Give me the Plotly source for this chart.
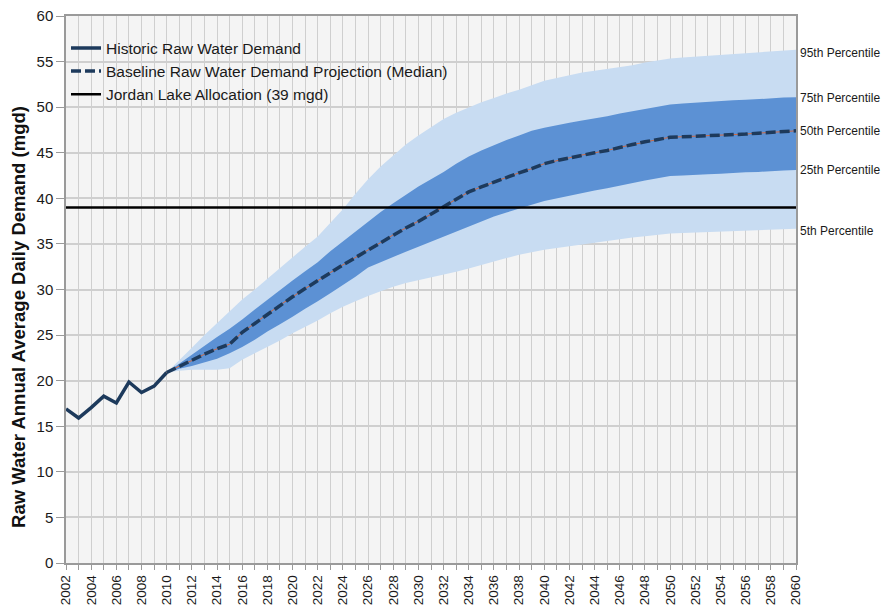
import plotly.graph_objects as go

hist_years = list(range(2002, 2011))
hist_demand = [16.9, 15.9, 17.05, 18.3, 17.55, 19.85, 18.7, 19.4, 20.9]

proj_years = list(range(2010, 2061))
p50 = [20.9, 21.6, 22.2, 22.9, 23.5, 24.0, 25.3, 26.3, 27.3, 28.3, 29.2, 30.1, 31.0, 31.85, 32.7,
       33.5, 34.3, 35.15, 36.0, 36.75, 37.45, 38.25, 39.1, 39.9, 40.7, 41.25, 41.8, 42.3, 42.8, 43.25,
       43.8, 44.15, 44.45, 44.75, 45.0, 45.25, 45.6, 45.9, 46.2, 46.45, 46.7, 46.75, 46.8, 46.85, 46.9,
       47.0, 47.05, 47.15, 47.25, 47.35, 47.4]
p75 = [20.9, 21.9, 22.9, 23.9, 24.8, 25.7, 26.7, 27.8, 28.9, 30.0, 31.0, 32.0, 33.0, 34.2, 35.3,
       36.4, 37.5, 38.5, 39.45, 40.4, 41.3, 42.1, 42.9, 43.8, 44.6, 45.25, 45.85, 46.4, 46.9, 47.4,
       47.75, 48.05, 48.3, 48.55, 48.75, 49.0, 49.3, 49.55, 49.8, 50.05, 50.3, 50.4, 50.5, 50.6, 50.65,
       50.75, 50.8, 50.9, 50.95, 51.05, 51.1]
p95 = [20.9, 22.2, 23.6, 25.0, 26.3, 27.6, 28.9, 30.0, 31.2, 32.4, 33.6, 34.7, 35.8, 37.3, 38.8,
       40.5, 42.1, 43.5, 44.75, 45.9, 46.9, 47.85, 48.7, 49.4, 50.0, 50.55, 51.0, 51.5, 51.9, 52.4,
       52.9, 53.2, 53.5, 53.8, 54.0, 54.2, 54.4, 54.6, 54.9, 55.1, 55.35, 55.45, 55.55, 55.65, 55.75,
       55.85, 55.95, 56.05, 56.15, 56.25, 56.3]
p25 = [20.9, 21.3, 21.6, 22.0, 22.4, 23.0, 23.7, 24.5, 25.4, 26.2, 27.0, 27.9, 28.7, 29.6, 30.5,
       31.4, 32.4, 33.0, 33.6, 34.15, 34.7, 35.25, 35.8, 36.35, 36.9, 37.45, 38.0, 38.45, 38.9, 39.3,
       39.7, 40.0, 40.3, 40.6, 40.85, 41.1, 41.4, 41.65, 41.95, 42.2, 42.45, 42.5, 42.6, 42.65, 42.7,
       42.8, 42.85, 42.9, 43.0, 43.05, 43.1]
p5 = [20.9, 21.1, 21.2, 21.2, 21.2, 21.35, 22.3, 23.0, 23.7, 24.4, 25.2, 25.9, 26.6, 27.4, 28.1,
      28.7, 29.3, 29.8, 30.3, 30.7, 31.0, 31.3, 31.6, 31.95, 32.3, 32.7, 33.1, 33.45, 33.8, 34.1,
      34.35, 34.55, 34.75, 34.95, 35.15, 35.35, 35.55, 35.7, 35.85, 36.0, 36.15, 36.2, 36.25, 36.3, 36.35,
      36.4, 36.45, 36.5, 36.55, 36.6, 36.65]

allocation = 39
band_labels = ["95th Percentile", "75th Percentile", "50th Percentile", "25th Percentile", "5th Percentile"]
y_title = "Raw Water Annual Average Daily Demand (mgd)"

LIGHT = "rgb(200,220,242)"
DARK = "rgb(92,145,212)"
NAVY = "#1d3a5c"
FONT = "Liberation Sans, Arial, sans-serif"
label_yshift = [-3, -1, 0, 0, -2]

fig = go.Figure()
fig.add_trace(go.Scatter(x=proj_years, y=p5, mode="lines", line=dict(width=0, color=LIGHT),
                         showlegend=False, hoverinfo="skip"))
fig.add_trace(go.Scatter(x=proj_years, y=p95, mode="lines", line=dict(width=0, color=LIGHT),
                         fill="tonexty", fillcolor=LIGHT, showlegend=False, hoverinfo="skip"))
fig.add_trace(go.Scatter(x=proj_years, y=p25, mode="lines", line=dict(width=0, color=DARK),
                         showlegend=False, hoverinfo="skip"))
fig.add_trace(go.Scatter(x=proj_years, y=p75, mode="lines", line=dict(width=0, color=DARK),
                         fill="tonexty", fillcolor=DARK, showlegend=False, hoverinfo="skip"))

fig.add_trace(go.Scatter(x=hist_years, y=hist_demand, mode="lines", name="Historic Raw Water Demand",
                         line=dict(color=NAVY, width=3.5)))
fig.add_trace(go.Scatter(x=proj_years, y=p50, mode="lines", showlegend=False, hoverinfo="skip",
                         line=dict(color="#d0683f", width=1)))
fig.add_trace(go.Scatter(x=proj_years, y=p50, mode="lines",
                         name="Baseline Raw Water Demand Projection (Median)",
                         line=dict(color=NAVY, width=3.5, dash="10px,4px")))
fig.add_trace(go.Scatter(x=[hist_years[0], proj_years[-1]], y=[allocation, allocation], mode="lines",
                         name="Jordan Lake Allocation (39 mgd)", line=dict(color="#000000", width=2.5)))

ends = [p95[-1], p75[-1], p50[-1], p25[-1], p5[-1]]
for lab, v, ys in zip(band_labels, ends, label_yshift):
    fig.add_annotation(x=proj_years[-1], y=v, text=lab, showarrow=False, xanchor="left",
                       xshift=2, yshift=ys, font=dict(size=12, color="#1a1a1a", family=FONT))

# y-axis title, placed as in the reference (slightly below the axis centre)
fig.add_annotation(xref="paper", yref="paper", x=0, y=0.449, xshift=-47.5, text=f"<b>{y_title}</b>",
                   textangle=-90, showarrow=False, xanchor="center", yanchor="middle",
                   font=dict(size=18.5, color="#111111", family=FONT))

fig.update_layout(
    width=886, height=611,
    margin=dict(l=66, r=90, t=16, b=48),
    paper_bgcolor="white", plot_bgcolor="#f4f4f4",
    font=dict(family=FONT, color="#1a1a1a"),
    legend=dict(x=0.0, y=0.972, xanchor="left", yanchor="top", bgcolor="rgba(0,0,0,0)",
                font=dict(size=15.5, family=FONT), tracegroupgap=0, traceorder="normal"),
    showlegend=True,
)
fig.update_xaxes(range=[2002, 2060], dtick=2, tick0=2002, tickangle=-90, automargin=False,
                 showgrid=True, gridcolor="#cfcfcf", gridwidth=1,
                 minor=dict(dtick=1, showgrid=True, gridcolor="#cfcfcf", ticks="outside", ticklen=5,
                            tickcolor="#9a9a9a"),
                 ticks="outside", ticklen=5, tickcolor="#9a9a9a",
                 showline=True, linecolor="#9a9a9a", linewidth=1.5, mirror=True,
                 tickfont=dict(size=13.5), zeroline=False)
fig.update_yaxes(range=[0, 60], dtick=5, showgrid=True, gridcolor="#cfcfcf", gridwidth=1.5,
                 ticks="outside", ticklen=8, tickcolor="#9a9a9a", automargin=False,
                 showline=True, linecolor="#9a9a9a", linewidth=1.5, mirror=True,
                 tickfont=dict(size=15), zeroline=False)

# remove the default 8px page margin so the figure sits at the window's corner
fig.write_html("out.html", config={"displayModeBar": False},
               post_script="document.body.style.margin='0px';")
